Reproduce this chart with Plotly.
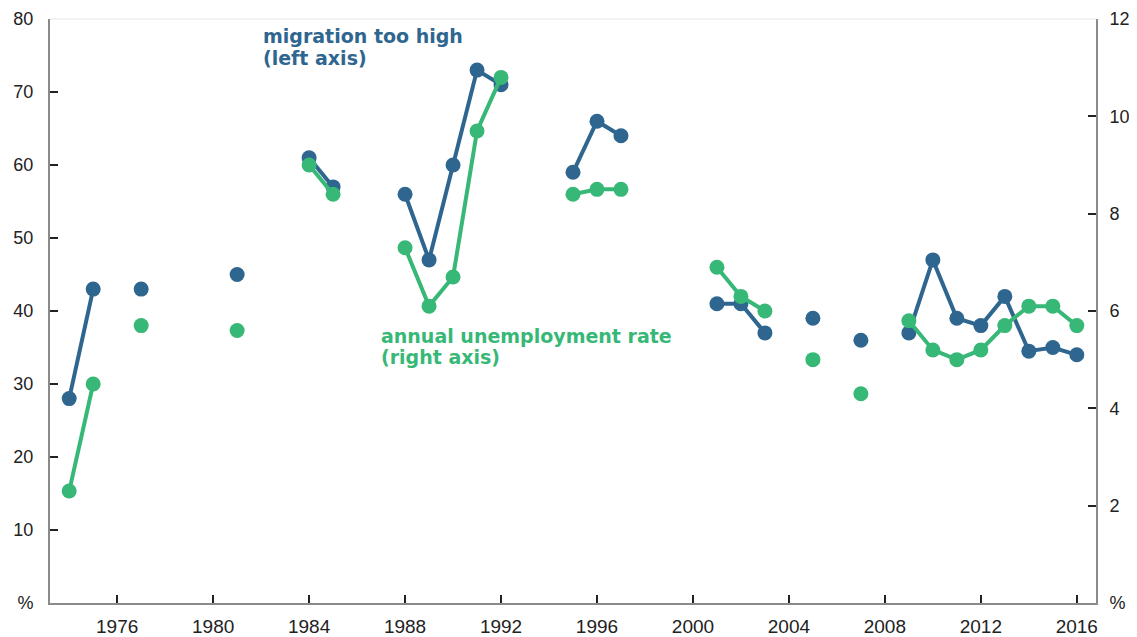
import plotly.graph_objects as go

years = list(range(1974, 2017))
migration = {1974: 28, 1975: 43, 1977: 43, 1981: 45, 1984: 61, 1985: 57, 1988: 56, 1989: 47,
             1990: 60, 1991: 73, 1992: 71, 1995: 59, 1996: 66, 1997: 64, 2001: 41, 2002: 41,
             2003: 37, 2005: 39, 2007: 36, 2009: 37, 2010: 47, 2011: 39, 2012: 38, 2013: 42,
             2014: 34.5, 2015: 35, 2016: 34}
unemployment = {1974: 2.3, 1975: 4.5, 1977: 5.7, 1981: 5.6, 1984: 9.0, 1985: 8.4, 1988: 7.3,
                1989: 6.1, 1990: 6.7, 1991: 9.7, 1992: 10.8, 1995: 8.4, 1996: 8.5, 1997: 8.5,
                2001: 6.9, 2002: 6.3, 2003: 6.0, 2005: 5.0, 2007: 4.3, 2009: 5.8, 2010: 5.2,
                2011: 5.0, 2012: 5.2, 2013: 5.7, 2014: 6.1, 2015: 6.1, 2016: 5.7}
mig_vals = [migration.get(y) for y in years]
unemp_vals = [unemployment.get(y) for y in years]

x_ticks = [1976, 1980, 1984, 1988, 1992, 1996, 2000, 2004, 2008, 2012, 2016]
left_ticks = [0, 10, 20, 30, 40, 50, 60, 70, 80]
left_text = ["%"] + [str(v) for v in left_ticks[1:]]
right_ticks = [0, 2, 4, 6, 8, 10, 12]
right_text = ["%"] + [str(v) for v in right_ticks[1:]]

BLUE = "#2e668f"
GREEN = "#37b877"
FONT = "Liberation Sans, Arial, sans-serif"
LABEL_FONT = "DejaVu Sans, Verdana, sans-serif"

fig = go.Figure()
fig.add_trace(go.Scatter(x=years, y=unemp_vals, mode="lines+markers", yaxis="y2",
                         line=dict(color=GREEN, width=4), marker=dict(color=GREEN, size=15),
                         connectgaps=False, showlegend=False))
fig.add_trace(go.Scatter(x=years, y=mig_vals, mode="lines+markers",
                         line=dict(color=BLUE, width=4), marker=dict(color=BLUE, size=15),
                         connectgaps=False, showlegend=False))

axis_common = dict(showgrid=False, zeroline=False, showline=True, linecolor="#8a8a8a",
                   linewidth=2, ticks="inside", ticklen=8, tickwidth=2, tickcolor="#222",
                   automargin=False)


def tickfont(size):
    return dict(family=FONT, size=size, color="#222")


def label(text, x, y, color):
    return dict(text="<b>" + text + "</b>", x=x, y=y, xref="x", yref="y",
                xanchor="left", yanchor="middle", showarrow=False, align="left",
                font=dict(family=LABEL_FONT, size=19, color=color))


fig.update_layout(
    width=1129, height=629,
    margin=dict(l=42, r=41, t=11, b=34),
    paper_bgcolor="white", plot_bgcolor="white",
    xaxis=dict(range=[1973.2, 2016.8], tickvals=x_ticks, ticklabelstandoff=5,
               tickfont=tickfont(19), **axis_common),
    yaxis=dict(range=[0, 80], tickvals=left_ticks, ticktext=left_text,
               ticklabelstandoff=11, tickfont=tickfont(18), **axis_common),
    yaxis2=dict(range=[0, 12], tickvals=right_ticks, ticktext=right_text, overlaying="y",
                side="right", ticklabelstandoff=8, tickfont=tickfont(18), **axis_common),
    shapes=[dict(type="line", xref="paper", yref="paper", x0=0, x1=1, y0=1, y1=1,
                 line=dict(color="#e6e6e6", width=1))],
    annotations=[
        label("migration too high", 1982.0, 77.7, BLUE),
        label("(left axis)", 1982.0, 74.7, BLUE),
        label("annual unemployment rate", 1986.9, 36.6, GREEN),
        label("(right axis)", 1986.9, 33.7, GREEN),
    ],
)

fig.write_html("out.html")
